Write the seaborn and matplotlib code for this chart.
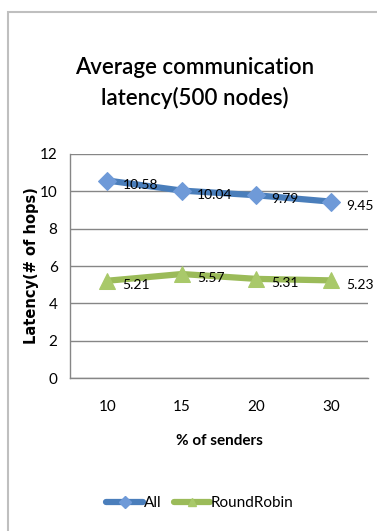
import matplotlib
matplotlib.use("Agg")
import matplotlib.pyplot as plt
import seaborn as sns
import pandas as pd
from matplotlib.patches import Rectangle
from matplotlib.lines import Line2D

# Data
senders = ["10", "15", "20", "30"]
all_vals = [10.58, 10.04, 9.79, 9.45]
rr_vals = [5.21, 5.57, 5.31, 5.23]
series_names = ["All", "RoundRobin"]
y_ticks = [0, 2, 4, 6, 8, 10, 12]

sns.set_theme(style="white")
FONT = ["Lato", "DejaVu Sans"]
plt.rcParams["font.family"] = FONT
plt.rcParams["text.color"] = "black"
plt.rcParams["axes.labelcolor"] = "black"
plt.rcParams["xtick.color"] = "black"
plt.rcParams["ytick.color"] = "black"

df = pd.DataFrame({
    "senders": senders * 2,
    "latency": all_vals + rr_vals,
    "series": [series_names[0]] * 4 + [series_names[1]] * 4,
})

fig = plt.figure(figsize=(3.77, 5.31), dpi=100)
fig.patch.set_facecolor("white")
ax = fig.add_axes([70 / 377, 1 - 378 / 531, 298 / 377, 224 / 531])

colors = {"All": "#4A7EBB", "RoundRobin": "#9BBB59"}
mfc = {"All": "#6F9AD8", "RoundRobin": "#A9C96A"}
markers = {"All": "D", "RoundRobin": "^"}
msize = {"All": 9, "RoundRobin": 11}

for name in series_names:
    sub = df[df["series"] == name]
    sns.lineplot(data=sub, x="senders", y="latency", ax=ax, color=colors[name],
                 linewidth=4.5, marker=markers[name], markersize=msize[name],
                 markerfacecolor=mfc[name], markeredgecolor=mfc[name],
                 sort=False, legend=False, zorder=3)
    for i, v in enumerate(sub["latency"]):
        ax.annotate(f"{v:.2f}", (i, v), xytext=(11, -3), textcoords="offset points",
                    ha="left", va="center", fontsize=10, color="black",
                    family=FONT, zorder=4)

ax.set_xlim(-0.5, 3.5)
ax.set_ylim(0, 12)
ax.set_yticks(y_ticks)
ax.set_xticks(range(4))
ax.set_xticklabels(senders)
ax.set_xticks([-0.5, 0.5, 1.5, 2.5, 3.5], minor=True)
ax.tick_params(axis="x", which="major", length=0, pad=16, labelsize=11)
ax.tick_params(axis="x", which="minor", length=4, color="#868686", width=1, direction="out")
ax.tick_params(axis="y", which="major", length=4, color="#868686", width=1, labelsize=11, pad=5, direction="out")
ax.grid(axis="y", color="#868686", linewidth=1)
ax.set_axisbelow(True)
for s in ["top", "right"]:
    ax.spines[s].set_visible(False)
for s in ["left", "bottom"]:
    ax.spines[s].set_color("#868686")
    ax.spines[s].set_linewidth(1)

ax.set_xlabel("% of senders", fontsize=11, fontweight="bold", labelpad=14, family=FONT)
ax.set_ylabel("Latency(# of hops)", fontsize=10.5, fontweight="bold",
              family=["DejaVu Sans"])
ax.yaxis.set_label_coords(-31 / 298, (378 - 266) / 224)

fig.text(195 / 377, 1 - 83 / 531, "Average communication\nlatency(500 nodes)",
         ha="center", va="center", fontsize=16, fontweight="semibold",
         linespacing=1.5, family=FONT)

handles = [Line2D([], [], color=colors[n], linewidth=4.5, marker=markers[n], markersize=6,
                  markerfacecolor=mfc[n], markeredgecolor=mfc[n]) for n in series_names]
fig.legend(handles, series_names, loc="center", bbox_to_anchor=(200 / 377, 1 - 503 / 531),
           ncol=2, frameon=False, handlelength=2.4, handletextpad=0.05,
           columnspacing=0.8, prop={"family": FONT, "size": 11})

fig.add_artist(Rectangle((8 / 377, -0.05), 1.2, 1 - 12 / 531 + 0.05, transform=fig.transFigure,
                         fill=False, edgecolor="#BFBFBF", linewidth=1.5))

fig.savefig("out.png", dpi=100)
